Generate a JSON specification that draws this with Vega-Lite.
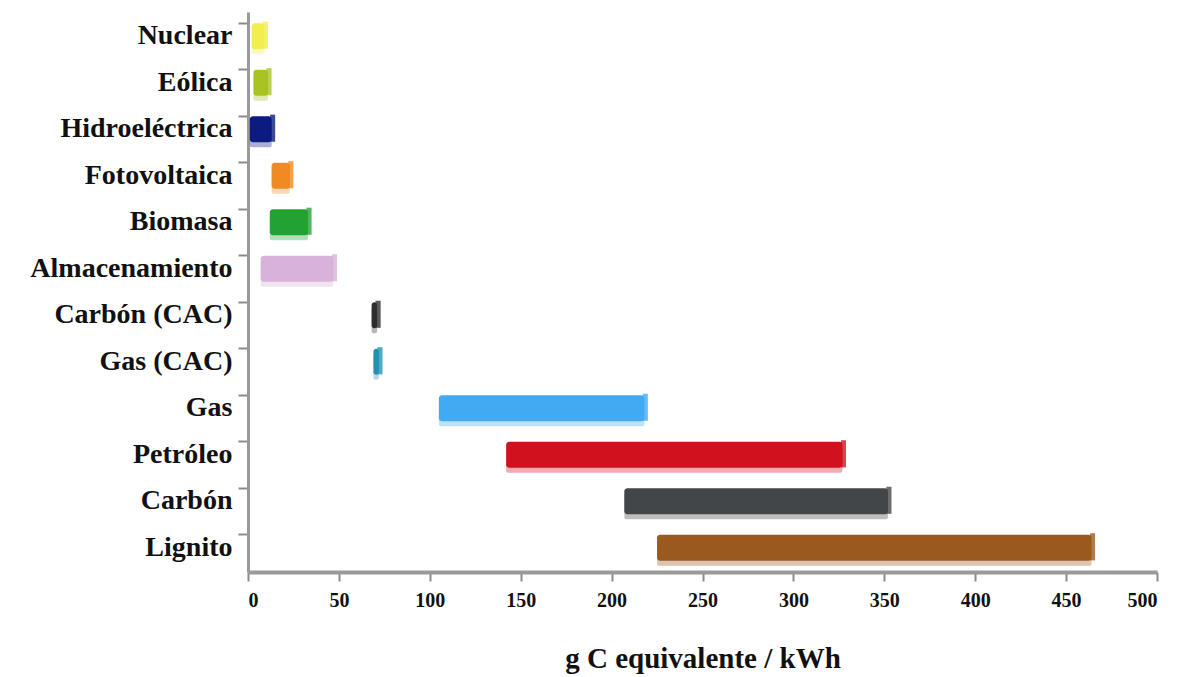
{
  "$schema": "https://vega.github.io/schema/vega-lite/v6.json",
  "autosize": {"type": "none"},
  "width": 909,
  "height": 560,
  "padding": {"left": 248, "top": 12, "right": 24, "bottom": 105},
  "background": "white",
  "config": {"view": {"stroke": null}},
  "data": {
    "values": [
      {"fuente": "Nuclear", "min": 2, "max": 9},
      {"fuente": "Eólica", "min": 3, "max": 11},
      {"fuente": "Hidroeléctrica", "min": 1, "max": 13},
      {"fuente": "Fotovoltaica", "min": 13, "max": 23},
      {"fuente": "Biomasa", "min": 12, "max": 33},
      {"fuente": "Almacenamiento", "min": 7, "max": 47},
      {"fuente": "Carbón (CAC)", "min": 68, "max": 71},
      {"fuente": "Gas (CAC)", "min": 69, "max": 72},
      {"fuente": "Gas", "min": 105, "max": 218},
      {"fuente": "Petróleo", "min": 142, "max": 327},
      {"fuente": "Carbón", "min": 207, "max": 352},
      {"fuente": "Lignito", "min": 225, "max": 464}
    ]
  },
  "encoding": {
    "y": {
      "field": "fuente", "type": "nominal", "sort": null, "title": null,
      "scale": {"paddingInner": 0.44, "paddingOuter": 0.24},
      "axis": {
        "bandPosition": 0, "domainColor": "#9a9a9a", "domainWidth": 3,
        "tickColor": "#8a8a8a", "tickSize": 10, "tickWidth": 2,
        "labelFont": "Liberation Serif", "labelFontWeight": "bold", "labelFontSize": 28,
        "labelColor": "#111", "labelPadding": 6, "labelLimit": 260
      }
    },
    "color": {
      "field": "fuente", "type": "nominal", "legend": null,
      "scale": {
        "domain": ["Nuclear", "Eólica", "Hidroeléctrica", "Fotovoltaica", "Biomasa", "Almacenamiento", "Carbón (CAC)", "Gas (CAC)", "Gas", "Petróleo", "Carbón", "Lignito"],
        "range": ["#f2ee4e", "#a9c224", "#0b1b82", "#f08a22", "#22a232", "#d8b2d8", "#2e2e2e", "#2392b2", "#42aaf2", "#d0121f", "#434649", "#9a5a1e"]
      }
    }
  },
  "layer": [
    {
      "mark": {"type": "bar", "opacity": 0.35, "yOffset": 5, "cornerRadius": 2},
      "encoding": {
        "x": {"field": "min", "type": "quantitative"},
        "x2": {"field": "max"}
      }
    },
    {
      "mark": {"type": "bar", "cornerRadius": 3},
      "encoding": {
        "x": {
          "field": "min", "type": "quantitative",
          "title": "g C equivalente / kWh",
          "scale": {"domain": [0, 500], "nice": false},
          "axis": {
            "values": [0, 50, 100, 150, 200, 250, 300, 350, 400, 450, 500],
            "grid": false, "domainColor": "#9a9a9a", "domainWidth": 4,
            "tickColor": "#8a8a8a", "tickSize": 9, "tickWidth": 2,
            "labelFont": "Liberation Serif", "labelFontWeight": "bold", "labelFontSize": 20,
            "labelColor": "#111", "labelPadding": 9,
            "titleFont": "Liberation Serif", "titleFontWeight": "bold", "titleFontSize": 29,
            "titleColor": "#111", "titlePadding": 34
          }
        },
        "x2": {"field": "max"}
      }
    },
    {
      "mark": {"type": "tick", "thickness": 5, "size": 27, "xOffset": 1, "yOffset": -1},
      "encoding": {
        "x": {"field": "max", "type": "quantitative"}
      }
    },
    {
      "mark": {"type": "tick", "thickness": 5, "size": 27, "xOffset": 1, "yOffset": -1, "color": "black", "opacity": 0.3},
      "encoding": {
        "x": {"field": "max", "type": "quantitative"}
      }
    }
  ]
}
